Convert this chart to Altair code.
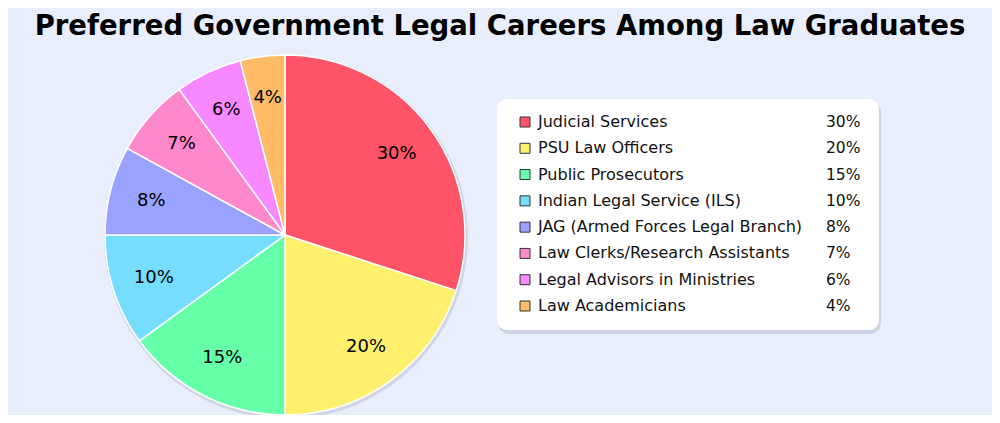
import altair as alt
import pandas as pd

categories = [
    "Judicial Services",
    "PSU Law Officers",
    "Public Prosecutors",
    "Indian Legal Service (ILS)",
    "JAG (Armed Forces Legal Branch)",
    "Law Clerks/Research Assistants",
    "Legal Advisors in Ministries",
    "Law Academicians",
]
values = [30, 20, 15, 10, 8, 7, 6, 4]
colors = ["#FF5468", "#FFF06E", "#66FFAA", "#77DDFF", "#99A3FF", "#FF88CC", "#F888FF", "#FFBB66"]

df = pd.DataFrame({
    "category": categories,
    "value": values,
    "order": list(range(len(categories))),
    "label": [f"{v}%" for v in values],
})

FONT = "DejaVu Sans"
PAD_TOP = 4
T = 36  # distance from chart top to plot-area top
CX, CY = 277, 227 - T
R = 180

color_enc = alt.Color("category:N", scale=alt.Scale(domain=categories, range=colors), legend=None)

base = alt.Chart(df)
one = alt.Chart(pd.DataFrame({"a": [0]}))

pie_shadow = one.mark_arc(radius=R + 2, theta=0, theta2=6.2832, color="#8a90a8", opacity=0.25).encode(
    x=alt.value(CX + 1), y=alt.value(CY + 2)
)

pie = base.mark_arc(radius=R, stroke="white", strokeWidth=1.5).encode(
    theta=alt.Theta("value:Q", stack=True),
    order=alt.Order("order:Q"),
    color=color_enc,
    x=alt.value(CX),
    y=alt.value(CY),
)

pie_labels = base.mark_text(radius=138, fontSize=18, font=FONT, color="black").encode(
    theta=alt.Theta("value:Q", stack=True),
    order=alt.Order("order:Q"),
    text="label:N",
    x=alt.value(CX),
    y=alt.value(CY),
)

BX0, BX1 = 489, 871
BY0, BY1 = 99 - 8 - T, 330 - 8 - T

box_shadow = one.mark_rect(cornerRadius=11, color="#7a809a", opacity=0.25).encode(
    x=alt.value(BX0 + 1), x2=alt.value(BX1 + 2), y=alt.value(BY0 + 2), y2=alt.value(BY1 + 4)
)
box = one.mark_rect(cornerRadius=10, color="white").encode(
    x=alt.value(BX0), x2=alt.value(BX1), y=alt.value(BY0), y2=alt.value(BY1)
)

ROW0, ROW7 = 122 - 8 - T, 306 - 8 - T
y_enc = alt.Y("category:N", sort=categories, axis=None,
              scale=alt.Scale(type="point", range=[ROW0, ROW7], padding=0))

leg_sym = base.mark_square(size=100, stroke="#333333", strokeWidth=1, opacity=1).encode(
    x=alt.value(517), y=y_enc,
    fill=alt.Fill("category:N", scale=alt.Scale(domain=categories, range=colors), legend=None),
)
leg_text = base.mark_text(align="left", baseline="middle", fontSize=16, font=FONT, color="#111111").encode(
    x=alt.value(530), y=y_enc, text="category:N"
)
leg_pct = base.mark_text(align="left", baseline="middle", fontSize=15.5, font=FONT, color="#111111").encode(
    x=alt.value(818), y=y_enc, text="label:N"
)

chart = alt.layer(pie_shadow, pie, pie_labels, box_shadow, box, leg_sym, leg_text, leg_pct).properties(
    width=984,
    height=407,
    autosize=alt.AutoSizeParams(type="fit", contains="padding"),
    padding={"top": PAD_TOP, "left": 0, "right": 0, "bottom": 0},
    background="#E8EEFC",
    title=alt.TitleParams(
        "Preferred Government Legal Careers Among Law Graduates",
        font=FONT, fontSize=27.5, fontWeight="bold", color="black", anchor="middle", offset=4,
    ),
).configure_view(stroke=None)

chart.save("out.html", embed_options={"renderer": "svg", "actions": False})
